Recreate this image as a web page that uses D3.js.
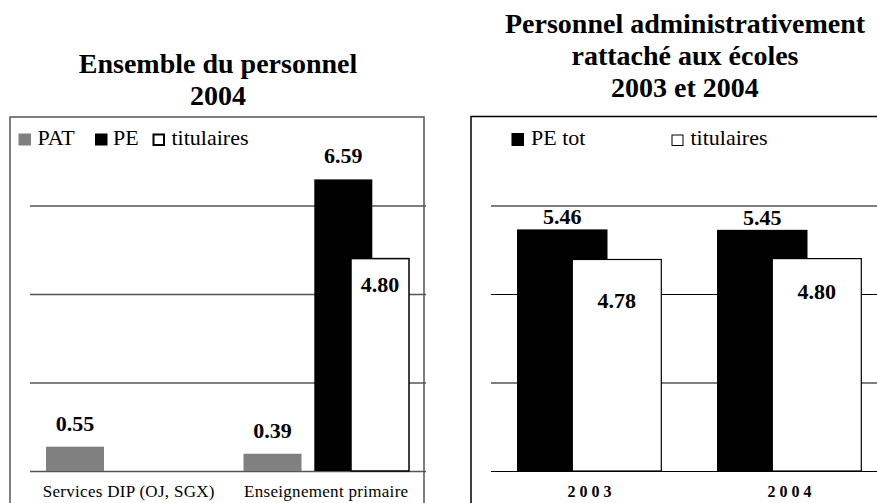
<!DOCTYPE html>
<html>
<head>
<meta charset="utf-8">
<script src="https://cdn.jsdelivr.net/npm/d3@7"></script>
<style>
  body { margin: 0; background: #fff; }
  svg, text { font-family: "Liberation Serif", "DejaVu Serif", "Times New Roman", Times, serif; }
</style>
</head>
<body>
<div id="chart"></div>
<script>
// left chart: whole staff 2004
var leftCategories = ["Services DIP (OJ, SGX)", "Enseignement primaire"];
var leftPAT = [0.55, 0.39];
var leftPE = [null, 6.59];
var leftTit = [null, 4.80];

// right chart: staff attached to schools, 2003 and 2004
var rightCategories = ["2003", "2004"];
var rightPE = [5.46, 5.45];
var rightTit = [4.78, 4.80];

var gridTicks = [0, 2, 4, 6];

var svg = d3.select("#chart").append("svg")
    .attr("width", 877)
    .attr("height", 503)
    .attr("font-family", "'Liberation Serif', 'DejaVu Serif', serif");

var y = d3.scaleLinear().domain([0, 8]).range([471, 117]);

function fmt(v) { return d3.format(".2f")(v); }

// ---------- titles
svg.append("text").attr("x", 218).attr("y", 73)
    .attr("text-anchor", "middle").style("font-size", "28px").style("font-weight", "bold")
    .text("Ensemble du personnel");
svg.append("text").attr("x", 218).attr("y", 105)
    .attr("text-anchor", "middle").style("font-size", "28px").style("font-weight", "bold")
    .text("2004");

["Personnel administrativement", "rattaché aux écoles", "2003 et 2004"].forEach(function (t, i) {
    svg.append("text").attr("x", 685).attr("y", 33 + i * 32)
        .attr("text-anchor", "middle").style("font-size", "28px").style("font-weight", "bold")
        .text(t);
});

// ---------- left panel
var gL = svg.append("g");

gL.append("path")
    .attr("d", "M10,510V117H424V510")
    .attr("fill", "none").attr("stroke", "#555").attr("stroke-width", 1.5);

var xL = d3.scaleBand().domain(leftCategories).range([30, 425]);
var wL = 58;

gL.append("g")
    .attr("transform", "translate(30,0)")
    .call(d3.axisLeft(y).tickValues(gridTicks).tickSize(-396).tickFormat(""))
    .call(g => g.select(".domain").remove())
    .call(g => g.selectAll("line").attr("stroke", "#555").attr("stroke-width", 1.5));

var leftSeries = [
    { vals: leftPAT, off: 16, fill: "#808080", stroke: "none" },
    { vals: leftPE, off: 86.8, fill: "#000", stroke: "none" },
    { vals: leftTit, off: 123.5, fill: "#fff", stroke: "#000" }
];

leftSeries.forEach(function (s, si) {
    var data = leftCategories.map((c, i) => ({ c: c, v: s.vals[i] })).filter(d => d.v != null);
    gL.selectAll(null).data(data).enter().append("rect")
        .attr("x", d => xL(d.c) + s.off)
        .attr("y", d => y(d.v))
        .attr("width", wL)
        .attr("height", d => y(0) - y(d.v))
        .attr("fill", s.fill)
        .attr("stroke", s.stroke)
        .attr("stroke-width", 1.5);
    gL.selectAll(null).data(data).enter().append("text")
        .attr("x", d => xL(d.c) + s.off + wL / 2)
        .attr("y", d => si === 2 ? y(d.v) + 33 : y(d.v) - 16)
        .attr("text-anchor", "middle")
        .style("font-size", "22px").style("font-weight", "bold")
        .text(d => fmt(d.v));
});

gL.selectAll(".cat").data(leftCategories).enter().append("text")
    .attr("class", "cat")
    .attr("x", d => xL(d) + xL.bandwidth() / 2)
    .attr("y", 497)
    .attr("text-anchor", "middle")
    .style("font-size", "17px")
    .style("letter-spacing", "0.3px")
    .text(d => d);

// left legend
var legL = [
    { label: "PAT", sx: 18.5, tx: 37.5, fill: "#808080", stroke: "none" },
    { label: "PE", sx: 95, tx: 113, fill: "#000", stroke: "none" },
    { label: "titulaires", sx: 152.5, tx: 171.5, fill: "#fff", stroke: "#000" }
];
legL.forEach(function (l) {
    gL.append("rect").attr("x", l.sx).attr("y", 133.5)
        .attr("width", l.stroke === "none" ? 12.5 : 10.5)
        .attr("height", l.stroke === "none" ? 12 : 10.5)
        .attr("fill", l.fill).attr("stroke", l.stroke).attr("stroke-width", 2)
        .attr("transform", l.stroke === "none" ? null : "translate(1,1)");
    gL.append("text").attr("x", l.tx).attr("y", 145)
        .style("font-size", "22px").text(l.label);
});

// ---------- right panel
var gR = svg.append("g");

gR.append("path")
    .attr("d", "M471,510V116.5H880")
    .attr("fill", "none").attr("stroke", "#000").attr("stroke-width", 1.5);

var xR = d3.scaleBand().domain(rightCategories).range([489.5, 889.5]);

gR.append("g")
    .attr("transform", "translate(491,0)")
    .call(d3.axisLeft(y).tickValues(gridTicks).tickSize(-390).tickFormat(""))
    .call(g => g.select(".domain").remove())
    .call(g => g.selectAll("line").attr("stroke", "#000").attr("stroke-width", 1.2));

var peW = 90.5, titW = 89, peOff = 27.5, titOff = 82.8;
var titLabelDy = [49, 40];

var rPE = rightCategories.map((c, i) => ({ c: c, v: rightPE[i] }));
var rTit = rightCategories.map((c, i) => ({ c: c, v: rightTit[i], i: i }));

gR.selectAll(".pe").data(rPE).enter().append("rect")
    .attr("x", d => xR(d.c) + peOff)
    .attr("y", d => y(d.v))
    .attr("width", peW)
    .attr("height", d => y(0) - y(d.v))
    .attr("fill", "#000");

gR.selectAll(".tit").data(rTit).enter().append("rect")
    .attr("x", d => xR(d.c) + titOff)
    .attr("y", d => y(d.v))
    .attr("width", titW)
    .attr("height", d => y(0) - y(d.v))
    .attr("fill", "#fff").attr("stroke", "#000").attr("stroke-width", 1.2);

gR.selectAll(".peLab").data(rPE).enter().append("text")
    .attr("x", d => xR(d.c) + peOff + peW / 2)
    .attr("y", d => y(d.v) - 5)
    .attr("text-anchor", "middle")
    .style("font-size", "22px").style("font-weight", "bold")
    .text(d => fmt(d.v));

gR.selectAll(".titLab").data(rTit).enter().append("text")
    .attr("x", d => xR(d.c) + titOff + titW / 2)
    .attr("y", d => y(d.v) + titLabelDy[d.i])
    .attr("text-anchor", "middle")
    .style("font-size", "22px").style("font-weight", "bold")
    .text(d => fmt(d.v));

gR.selectAll(".year").data(rightCategories).enter().append("text")
    .attr("x", d => xR(d) + xR.bandwidth() / 2 + 2)
    .attr("y", 497)
    .attr("text-anchor", "middle")
    .style("font-size", "16px").style("font-weight", "bold")
    .style("letter-spacing", "4px")
    .text(d => d);

// right legend
gR.append("rect").attr("x", 511.5).attr("y", 133).attr("width", 12.5).attr("height", 13).attr("fill", "#000");
gR.append("text").attr("x", 531).attr("y", 145).style("font-size", "22px").text("PE tot");
gR.append("rect").attr("x", 672).attr("y", 135).attr("width", 11).attr("height", 10.5)
    .attr("fill", "#fff").attr("stroke", "#000").attr("stroke-width", 1);
gR.append("text").attr("x", 690.5).attr("y", 145).style("font-size", "22px").text("titulaires");
</script>
</body>
</html>
